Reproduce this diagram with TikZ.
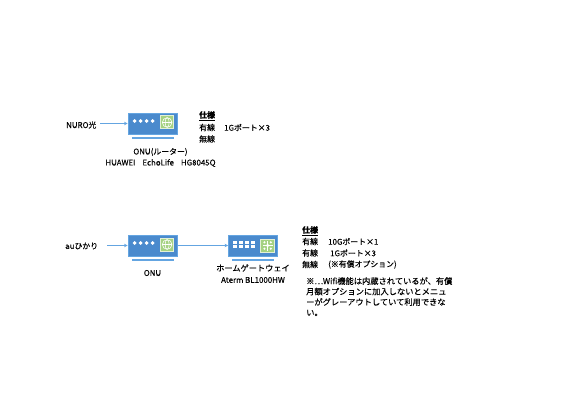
\documentclass[tikz,border=0pt]{standalone}
\usepackage{fontspec}
\setmainfont[FakeBold=0.25]{Noto Sans CJK JP}
\usepackage{xcolor}
\usetikzlibrary{arrows.meta,positioning,calc}
\definecolor{devblue}{RGB}{74,138,205}
\definecolor{edgeblue}{RGB}{100,165,225}
\definecolor{iconedge}{RGB}{226,240,214}
\definecolor{icongreen}{RGB}{165,210,130}
\begin{document}
\begin{tikzpicture}[x=1pt,y=-1pt,node distance=1.5pt,
    dev/.style={rectangle,draw=edgeblue,fill=devblue,line width=0.8pt,inner sep=0pt,minimum width=49pt,minimum height=21pt},
    bar/.style={rectangle,fill=edgeblue,inner sep=0pt,minimum width=42pt,minimum height=1.8pt},
    icon/.style={rectangle,draw=iconedge,fill=icongreen,line width=1pt,inner sep=0pt,minimum width=13.5pt,minimum height=13pt},
    lbl/.style={inner sep=0pt,align=left,font=\fontsize{7.9}{10.6}\selectfont},
    a/.style={-{Stealth[length=3.5pt,width=3.5pt]},edgeblue,line width=0.8pt}]
    \useasboundingbox (0,0) rectangle (586,414);
    % devices
    \node[dev] (nuro) at (152.5,123.5) {};
    \node[dev] (onu) at (152.5,245.5) {};
    \node[dev] (gw) at (253,245.5) {};
    \node[bar,below=2.2pt of nuro] (nurobar) {};
    \node[bar,below=2.2pt of onu] (onubar) {};
    \node[bar,below=2.2pt of gw] (gwbar) {};
    % front panels
    \foreach \n in {nuro,onu}{
      \foreach \i in {0,1,2,3}
        \fill[white] ($(\n.west)+(7+6*\i,-2.5)$) circle (1.9pt);
      \node[icon,left=3pt of \n.east,yshift=1pt] (\n icon) {};
      \draw[white,line width=0.6pt] (\n icon.center) circle (4.8pt);
      \draw[white,line width=0.5pt] (\n icon.center) ellipse (2pt and 4.8pt);
      \draw[white,line width=0.5pt] ($(\n icon.center)+(-4.8,0)$) -- ($(\n icon.center)+(4.8,0)$);
    }
    \foreach \i in {0,1,2,3}
      \foreach \j in {0,1}
        \fill[white] ($(gw.west)+(5.2+6*\i,-4.5+4.4*\j)$) rectangle +(3.8,2.8);
    \node[icon,left=3pt of gw.east] (gwicon) {};
    \foreach \d in {0,90,180,270}
      \draw[white,line width=1pt] (gwicon.center) -- +(\d:5pt);
    \foreach \d in {45,135,225,315}
      \fill[white] (gwicon.center) ++(\d:4.5pt) circle (1.2pt);
    \fill[white] (gwicon.center) circle (1.8pt);
    % labels
    \node[lbl,anchor=west] (nurotxt) at (66,125) {NURO光};
    \node[lbl,anchor=center] (onur) at (160.5,152) {ONU(ルーター)};
    \node[lbl,anchor=center] (hg) at (160.5,163) {HUAWEI\hspace{7pt}EchoLife\hspace{7pt}HG8045Q};
    \node[lbl,anchor=west] (spec1) at (199,116) {\underline{\textbf{仕様}}};
    \node[lbl,anchor=west] (wired1) at (199,127.5) {有線};
    \node[lbl,anchor=west] (port1) at (224,127.5) {1Gポート×3};
    \node[lbl,anchor=west] (wless1) at (199,139) {無線};
    \node[lbl,anchor=west] (autxt) at (65,246) {auひかり};
    \node[lbl,anchor=center] (onutxt) at (152.5,273) {ONU};
    \node[lbl,anchor=center,font=\fontsize{8.2}{10}\selectfont] (gwtxt) at (253,268) {ホームゲートウェイ};
    \node[lbl,anchor=center] (aterm) at (253,280) {Aterm BL1000HW};
    \node[lbl,anchor=west] (spec2) at (302,231) {\underline{\textbf{仕様}}};
    \node[lbl,anchor=west] (wired2) at (302,241.5) {有線};
    \node[lbl,anchor=west] (port2) at (328,241.5) {10Gポート×1};
    \node[lbl,anchor=west] (wired3) at (302,253) {有線};
    \node[lbl,anchor=west] (port3) at (330,253) {1Gポート×3};
    \node[lbl,anchor=west] (wless2) at (302,264.5) {無線};
    \node[lbl,anchor=west] (opt) at (328,264.5) {(※有償オプション)};
    \node[lbl,anchor=north west,font=\fontsize{8.25}{10.5}\selectfont] (note) at (306,277) {※…Wifi機能は内蔵されているが、有償\\月額オプションに加入しないとメニュ\\ーがグレーアウトしていて利用できな\\い。};
    % connectors
    \coordinate (nuroin) at (100,123.5);
    \coordinate (auin) at (107,245.5);
    \draw[a] (nuroin)--(nuro);
    \draw[a] (auin)--(onu);
    \draw[a] (onu)--(gw);
  \end{tikzpicture}
\end{document}
